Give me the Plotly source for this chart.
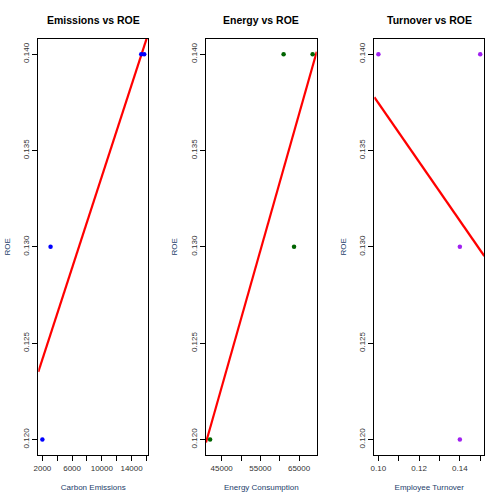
import numpy as np
import plotly.graph_objects as go

roe = [0.120, 0.130, 0.140, 0.140]
emissions = [2000, 3100, 15300, 15700]
energy_roe = [0.120, 0.140, 0.130, 0.140]
energy = [42000, 61000, 63700, 68500]
turn_roe = [0.140, 0.140, 0.130, 0.120]
turnover = [0.10, 0.15, 0.14, 0.14]

titles = ["Emissions vs ROE", "Energy vs ROE", "Turnover vs ROE"]
xlabels = ["Carbon Emissions", "Energy Consumption", "Employee Turnover"]
colors = ["#0000FF", "#006400", "#A020F0"]

x_tickvals = [
    [2000, 4000, 6000, 8000, 10000, 12000, 14000, 16000],
    [45000, 50000, 55000, 60000, 65000],
    [0.10, 0.11, 0.12, 0.13, 0.14, 0.15],
]
x_ticktext = [
    ["2000", "", "6000", "", "10000", "", "14000", ""],
    ["45000", "", "55000", "", "65000"],
    ["0.10", "", "0.12", "", "0.14", ""],
]
y_tickvals = [0.120, 0.125, 0.130, 0.135, 0.140]
y_ticktext = ["0.120", "0.125", "0.130", "0.135", "0.140"]

series = [(emissions, roe), (energy, energy_roe), (turnover, turn_roe)]

x_domains = [[0.076, 0.2942], [0.4087, 0.6284], [0.7427, 0.9609]]
y_domain = [0.0972, 0.9232]

FONT = "Liberation Sans, Arial, sans-serif"
fig = go.Figure()

for i, (xs, ys) in enumerate(series):
    xs = np.array(xs, dtype=float)
    ys = np.array(ys, dtype=float)
    xr = xs.max() - xs.min()
    xrange = [xs.min() - 0.04 * xr, xs.max() + 0.04 * xr]
    yr = ys.max() - ys.min()
    yrange = [ys.min() - 0.04 * yr, ys.max() + 0.04 * yr]
    slope, intercept = np.polyfit(xs, ys, 1)
    lx = np.array(xrange)
    ly = intercept + slope * lx
    ax = "" if i == 0 else str(i + 1)
    fig.add_trace(go.Scatter(x=lx, y=ly, mode="lines",
                             line=dict(color="#FF0000", width=2.2),
                             xaxis="x" + ax, yaxis="y" + ax, showlegend=False))
    fig.add_trace(go.Scatter(x=xs, y=ys, mode="markers",
                             marker=dict(color=colors[i], size=4.5),
                             xaxis="x" + ax, yaxis="y" + ax, showlegend=False))
    common = dict(showgrid=False, zeroline=False, showline=True, mirror=True,
                  linecolor="black", linewidth=1.3, ticks="outside", ticklen=5,
                  tickcolor="black", automargin=False,
                  tickfont=dict(family=FONT, size=8, color="#333333"))
    fig.layout["xaxis" + ax] = dict(
        domain=x_domains[i], range=xrange, tickvals=x_tickvals[i], ticktext=x_ticktext[i],
        anchor="y" + ax,
        title=dict(text=xlabels[i], font=dict(family=FONT, size=8, color="#24406a"), standoff=12),
        **common)
    fig.layout["yaxis" + ax] = dict(
        domain=y_domain, range=yrange, tickvals=y_tickvals, ticktext=y_ticktext,
        anchor="x" + ax, tickangle=-90,
        title=dict(text="ROE", font=dict(family=FONT, size=8, color="#24406a"), standoff=10),
        **common)
    fig.add_annotation(text="<b>" + titles[i] + "</b>", xref="paper", yref="paper",
                       x=sum(x_domains[i]) / 2, y=1 - 20 / 504, xanchor="center", yanchor="middle",
                       showarrow=False, font=dict(family=FONT, size=10.5, color="black"))

fig.update_layout(width=504, height=504, margin=dict(l=0, r=0, t=0, b=0),
                  paper_bgcolor="white", plot_bgcolor="white")
fig.write_html("out.html", config={"displayModeBar": False},
               post_script="document.body.style.margin='0';")
